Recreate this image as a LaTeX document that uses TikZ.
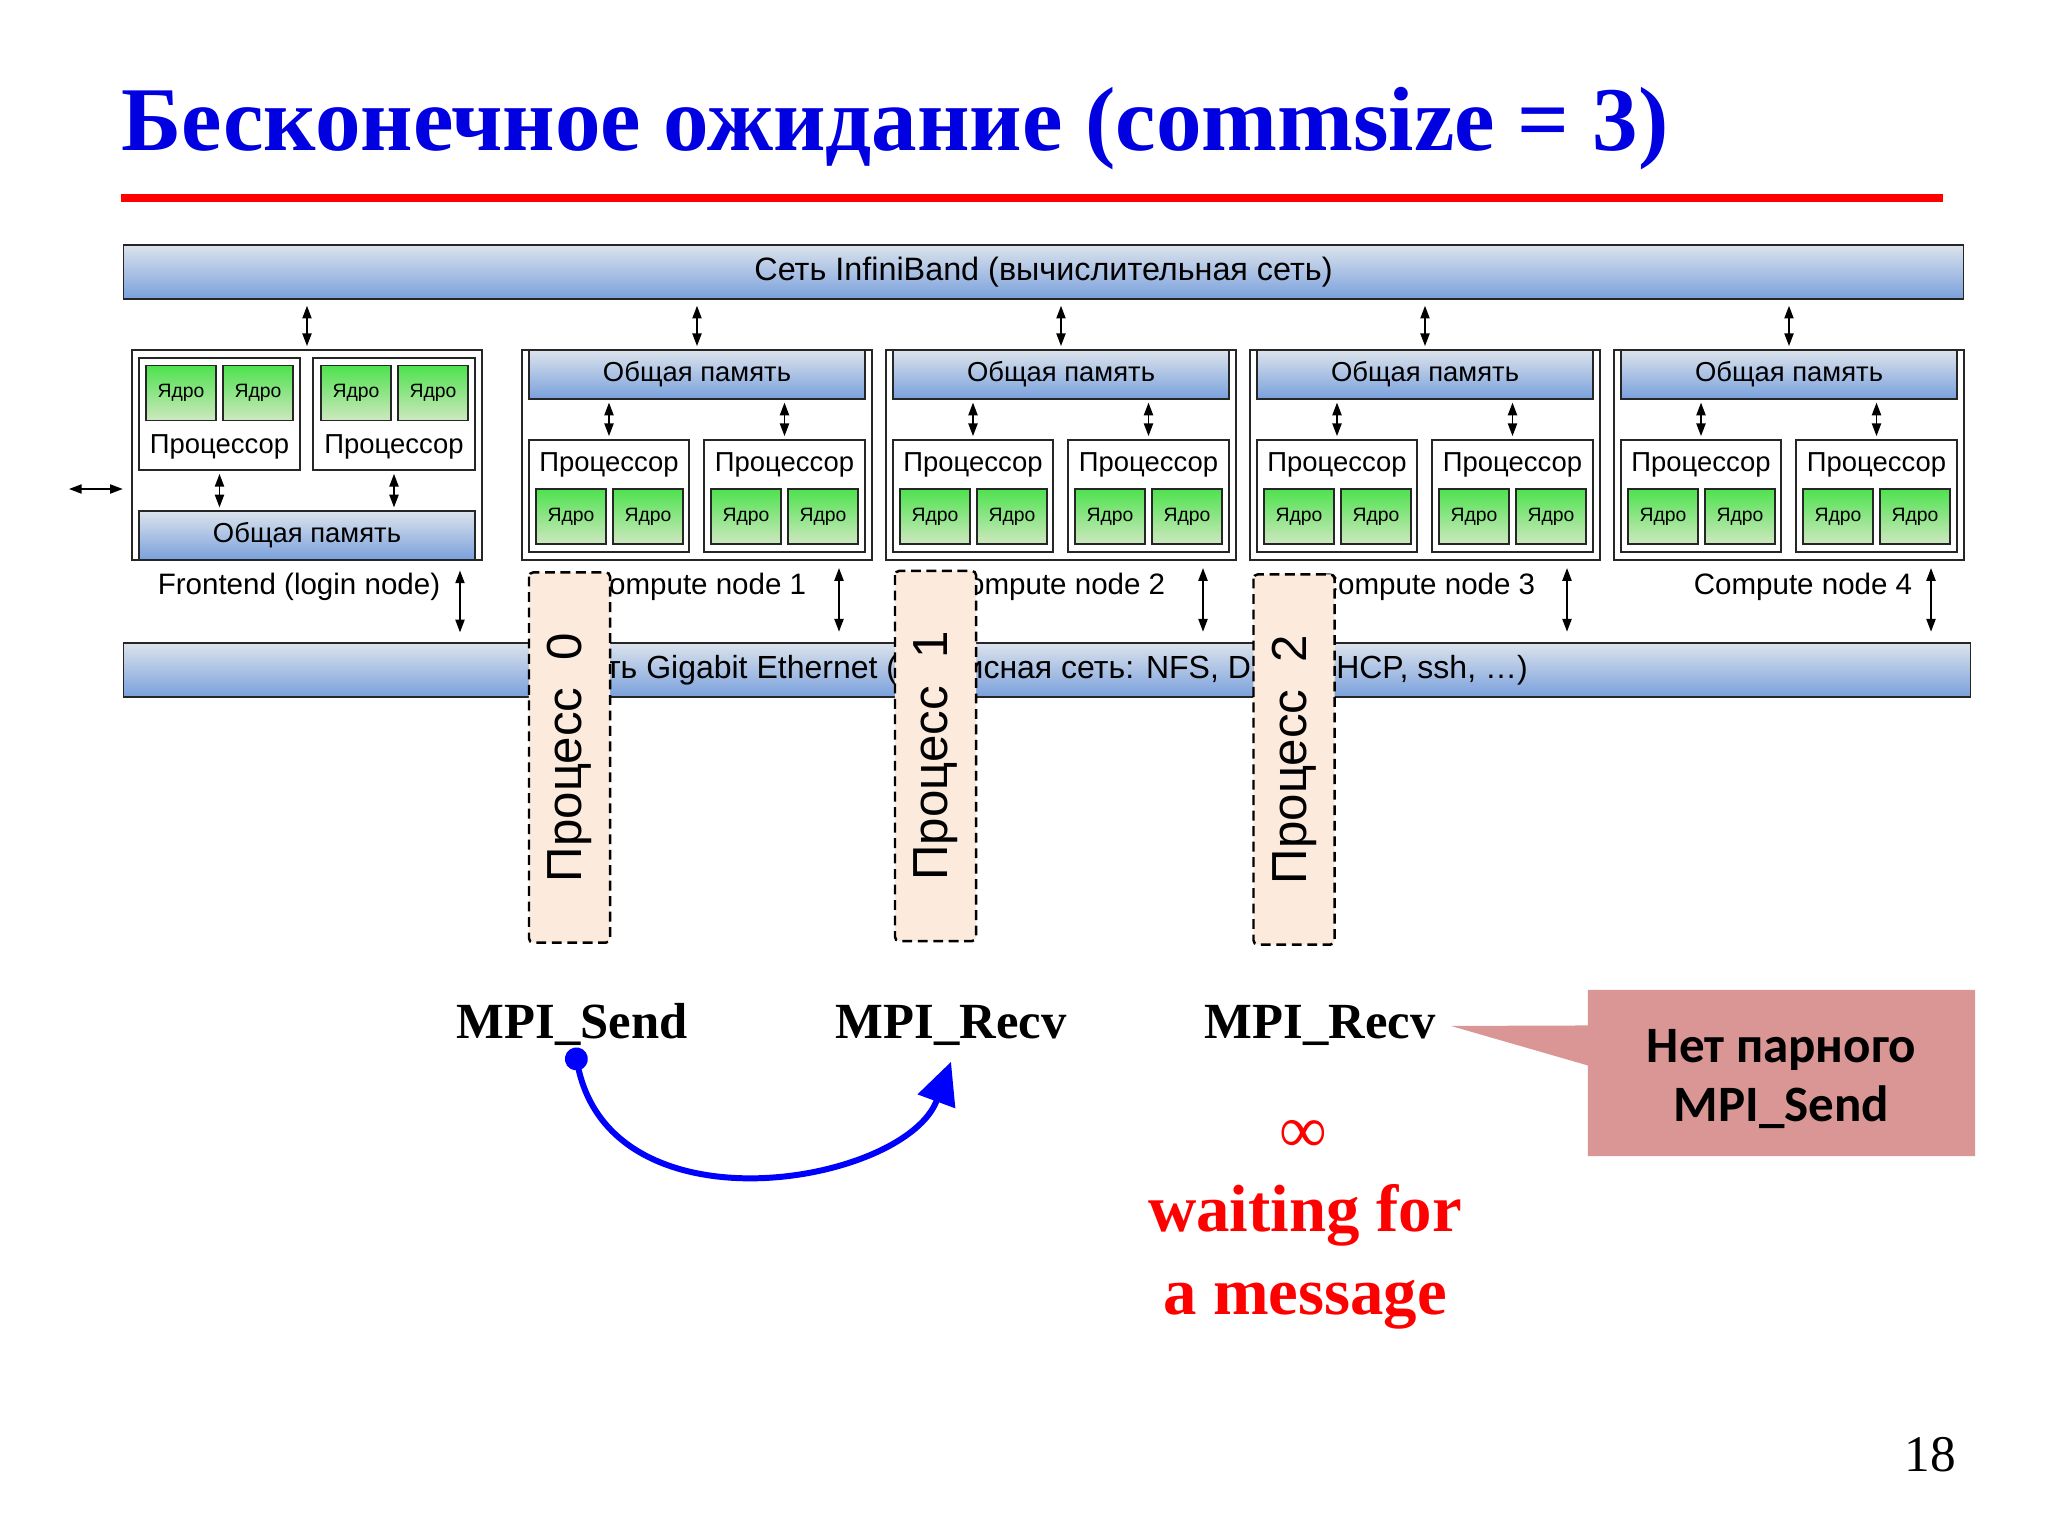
\documentclass[tikz,border=0pt]{standalone}
\usepackage{fontspec}
\setmainfont{Liberation Serif}
\setsansfont{Liberation Sans}
\newfontfamily\calib{Carlito}
\usetikzlibrary{arrows.meta,calc,shapes.callouts}

\definecolor{titleblue}{RGB}{0,0,224}
\definecolor{barlight}{RGB}{220,227,236}
\definecolor{bardark}{RGB}{121,160,220}
\definecolor{corelight}{RGB}{206,232,192}
\definecolor{coredark}{RGB}{78,226,78}
\definecolor{procfill}{RGB}{252,234,220}
\definecolor{notefill}{RGB}{217,150,148}

\newcommand{\titletext}{\bfseries\fontsize{25.9}{30}\selectfont}
\newcommand{\bartext}{\sffamily\fontsize{9.2}{11}\selectfont}
\newcommand{\ethtext}{\sffamily\fontsize{9.1}{11}\selectfont}
\newcommand{\nodetext}{\sffamily\fontsize{8.4}{10}\selectfont}
\newcommand{\proctext}{\sffamily\fontsize{7.8}{9}\selectfont}
\newcommand{\coretext}{\sffamily\fontsize{5.5}{6.5}\selectfont}
\newcommand{\proctitle}{\sffamily\fontsize{14}{16}\selectfont}

\tikzset{
  bar/.style={draw=black!85, line width=0.45pt, top color=barlight, bottom color=bardark},
  box/.style={draw=black!85, line width=0.6pt, fill=white},
  core/.style={draw=black!85, line width=0.5pt, top color=coredark, bottom color=corelight,
    minimum width=7mm, minimum height=5.5mm, inner sep=0pt, font=\coretext},
  link/.style={line width=0.45pt, >={Triangle[length=3.6pt,width=2.6pt]}, <->,
    shorten <=0.8pt, shorten >=0.8pt},
  procbox/.style={draw, dashed, dash pattern=on 2.8pt off 1.6pt, line width=0.7pt,
    rounded corners=1.2pt, fill=procfill, rotate=90, minimum width=37mm, minimum height=8.1mm,
    font=\proctitle},
  mpi/.style={anchor=base, inner sep=0pt, font=\bfseries\fontsize{14.4}{17}\selectfont},
  msgarrow/.style={blue, line width=1.7pt, {Circle[length=6.5pt]}-{Triangle[length=12pt,width=11pt]}},
}

\begin{document}
\begin{tikzpicture}[x=0.01cm,y=-0.01cm]
  \useasboundingbox (0,0) rectangle (2048,1536);

  % заголовок
  \node[anchor=base west, inner sep=0pt, text=titleblue, font=\titletext] (title) at (121,150)
    {Бесконечное ожидание (commsize = 3)};
  \draw[red, line width=2.3pt] (121,198) -- (1943,198);

  % сети
  \node[bar, minimum width=183.9mm, minimum height=5.4mm, font=\bartext] (ib) at (1043.5,272)
    {Сеть InfiniBand (вычислительная сеть)};
  \node[bar, minimum width=184.6mm, minimum height=5.4mm, font=\ethtext] (eth) at (1047,670)
    {Сеть Gigabit Ethernet (сервисная сеть: NFS, DNS, DHCP, ssh, …)};

  % Frontend
  \node[box, minimum width=35mm, minimum height=21mm] (fe) at (307,455) {};
  \node[box, minimum width=16.1mm, minimum height=11.2mm] (fepa) at (219.5,414) {};
  \node[box, minimum width=16.2mm, minimum height=11.2mm] (fepb) at (394,414) {};
  \node[core] (fec1) at (181,393) {Ядро};
  \node[core] (fec2) at (258,393) {Ядро};
  \node[core] (fec3) at (356,393) {Ядро};
  \node[core] (fec4) at (433,393) {Ядро};
  \node[font=\proctext] (feta) at (219.5,447) {Процессор};
  \node[font=\proctext] (fetb) at (394,447) {Процессор};
  \node[bar, minimum width=33.6mm, minimum height=3.5mm, font=\proctext] (femem) at (307,535.5) {Общая память};
  \draw[link] (fepa.south) -- (femem.north -| fepa.south);
  \draw[link] (fepb.south) -- (femem.north -| fepb.south);
  \draw[link, shorten <=1.7pt] (ib.south -| fe.north) -- (fe.north);
  \node[font=\nodetext] (fel) at (299,587) {Frontend (login node)};
  \coordinate (fed) at (460,560);
  \draw[link, shorten <=3pt, shorten >=2.8pt] (fed) -- (fed |- eth.north);
  \coordinate (ext) at (69,489);
  \draw[link, shorten <=0pt, shorten >=2.3pt] (ext) -- (ext -| fe.west);

  % вычислительные узлы
  \foreach \k/\L/\lx in {1/522/175,2/886/170,3/1250/176,4/1614/189}{
    \node[box, minimum width=35mm, minimum height=21mm] (cn\k) at (\L+175,455) {};
    \node[bar, minimum width=33.6mm, minimum height=3.5mm, font=\proctext] (mem\k) at (\L+175,374.5) {Общая память};
    \node[box, minimum width=16mm, minimum height=11.2mm] (pa\k) at (\L+87,496) {};
    \node[box, minimum width=16.1mm, minimum height=11.2mm] (pb\k) at (\L+262.5,496) {};
    \node[font=\proctext] (ta\k) at (\L+87,465) {Процессор};
    \node[font=\proctext] (tb\k) at (\L+262.5,465) {Процессор};
    \node[core] (core\k a) at (\L+49,516.5) {Ядро};
    \node[core] (core\k b) at (\L+126,516.5) {Ядро};
    \node[core] (core\k c) at (\L+224,516.5) {Ядро};
    \node[core] (core\k d) at (\L+301,516.5) {Ядро};
    \draw[link] (mem\k.south -| pa\k.north) -- (pa\k.north);
    \draw[link] (mem\k.south -| pb\k.north) -- (pb\k.north);
    \draw[link, shorten <=1.7pt] (ib.south -| cn\k.north) -- (cn\k.north);
    \node[font=\nodetext] (lab\k) at (\L+\lx,587) {Compute node \k};
    \coordinate (down\k) at (\L+317,560);
    \draw[link, shorten <=2.3pt, shorten >=3pt] (down\k) -- (down\k |- eth.north);
  }

  % процессы
  \node[procbox] (pr0) at (569.5,757.5) {Процесс\ \ 0};
  \node[procbox] (pr1) at (935.5,756) {Процесс\ \ 1};
  \node[procbox] (pr2) at (1294,759.5) {Процесс\ \ 2};

  % вызовы
  \node[mpi] (send) at (572,1038) {MPI\_Send};
  \node[mpi] (recv1) at (951,1038) {MPI\_Recv};
  \node[mpi] (recv2) at (1320,1038) {MPI\_Recv};
  \draw[msgarrow] ($(send.south)+(2,2)$) .. controls +(40,188) and +(-45,122) .. ($(recv1.south)+(0,16)$);

  % выноска
  \coordinate (tip) at ($(recv2.east)+(15,1)$);
  \node[rectangle callout, fill=notefill, minimum width=38.7mm, minimum height=16.6mm,
    callout absolute pointer=(tip), callout pointer width=4mm] (note) at (1781.5,1073) {};
  \node[align=center, font=\calib\bfseries\fontsize{14.5}{17}\selectfont] (notetext)
    at ($(note.center)+(0,6)$) {Нет парного\\MPI\_Send};

  \node[text=red, font=\fontsize{19}{21}\selectfont] (inf) at (1303,1136) {∞};
  \node[text=red, align=center, font=\bfseries\fontsize{19}{23.6}\selectfont] (wait) at (1305,1257)
    {waiting for\\a message};

  \node[font=\fontsize{14.6}{16}\selectfont] (page) at (1930,1455) {18};
\end{tikzpicture}
\end{document}
